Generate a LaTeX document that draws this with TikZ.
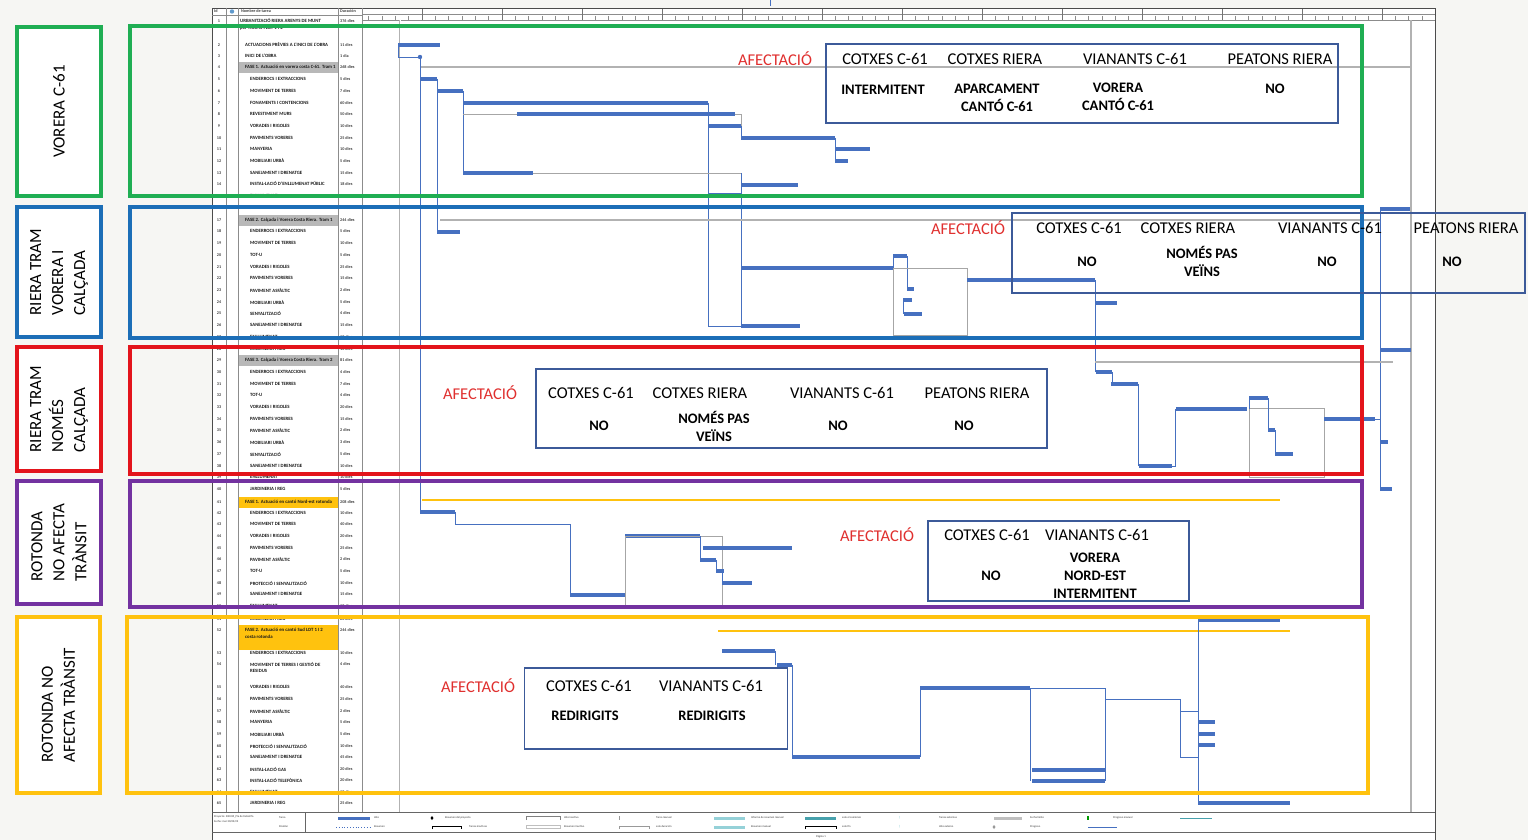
\documentclass[tikz,border=0pt]{standalone}
\usepackage{fontspec}
\setmainfont{Carlito}
\definecolor{bgc}{HTML}{F6F6F3}
\definecolor{cgreen}{HTML}{1FAE53}
\definecolor{cblue}{HTML}{1C6EB7}
\definecolor{cred}{HTML}{E3141B}
\definecolor{cpurple}{HTML}{7332A0}
\definecolor{cyellow}{HTML}{FFC20E}
\definecolor{navy}{HTML}{3C5A99}
\definecolor{barblue}{HTML}{4670C0}
\definecolor{afred}{HTML}{E0302F}
\definecolor{teal1}{HTML}{4FB3BF}
\newcommand\myhdr{\fontsize{16.5}{19}\selectfont}
\newcommand\myval{\fontsize{14.5}{18}\selectfont\bfseries}
\newcommand\mylab{\fontsize{17}{22}\selectfont}
\newcommand\mytbl{\fontsize{4.8}{5.6}\selectfont\bfseries}
\begin{document}
\begin{tikzpicture}[x=1pt,y=-1pt,
  gbar/.style={draw=barblue, line width=3.4pt},
  gthin/.style={draw=barblue, line width=0.9pt},
  gsum/.style={draw=black!30, line width=1.4pt},
  glight/.style={draw=black!35, line width=0.8pt},
  ysum/.style={draw=cyellow, line width=1.4pt},
  grect/.style={draw=black!35, line width=0.9pt},
  bigbox/.style={line width=3.4pt},
  lblbox/.style={draw, line width=3.4pt, fill=white, inner sep=0pt},
  lbltext/.style={rotate=90, align=left, font=\mylab, inner sep=0pt},
  infobox/.style={draw=navy, line width=1.5pt, inner sep=0pt},
  hdrtxt/.style={font=\myhdr, inner sep=0pt},
  valtxt/.style={font=\myval, align=center, inner sep=0pt},
  afec/.style={font=\myhdr, text=afred, inner sep=0pt},
  tbltxt/.style={font=\mytbl, text=black!90, inner sep=0pt},
  durtxt/.style={font=\fontsize{4.2}{5}\selectfont\bfseries, text=black!75, inner sep=0pt},
  legtxt/.style={font=\fontsize{2.8}{3.2}\selectfont, text=black!80, inner sep=0pt, anchor=west}
]
\useasboundingbox (0,0) rectangle (1528,840);
\fill[bgc] (0,0) rectangle (1528,840);
% page
\fill[white] (212,8) rectangle (1435,840);
\draw[barblue, line width=1pt] (770,0) -- (770,6);
% table summary fills
\fill[black!28] (238,62) rectangle (338,73);
\fill[black!28] (238,215) rectangle (338,226);
\fill[black!28] (238,355) rectangle (338,366);
\fill[cyellow] (238,497) rectangle (338,508);
\fill[cyellow] (238,625) rectangle (338,650);
% page frame and columns
\draw[black!70, line width=0.8pt] (212,840) -- (212,8) -- (1435,8) -- (1435,840);
\foreach \cx in {226,238,338,362} \draw[black!45, line width=0.5pt] (\cx,8) -- (\cx,812);
\draw[black!45, line width=0.5pt] (212,15) -- (362,15);
\draw[black!45, line width=0.5pt] (362,14) -- (1435,14);
\draw[black!45, line width=0.5pt] (362,20) -- (1435,20);
\node[durtxt, anchor=west] (hid) at (214,11.5) {Id};
\fill[cblue!70] (232,11.5) circle (2.2);
\node[durtxt, anchor=west] (hname) at (241,11.5) {Nombre de tarea};
\node[durtxt, anchor=west] (hdur) at (340,11.5) {Duración};
% timeline ticks
\begin{scope}
\clip (362,8) rectangle (1435,21);
\foreach \k in {-1,0,...,12} {
  \pgfmathsetmacro\tx{422+80*\k}
  \draw[black!55, line width=0.5pt] (\tx,9) -- (\tx,20);
  \foreach \s in {1,...,5} {
    \pgfmathsetmacro\sx{\tx+13.33*\s}
    \draw[black!45, line width=0.4pt] (\sx,16) -- (\sx,20);
  }
}
\end{scope}
% table rows
\begin{scope}
\clip (238,8) rectangle (338,812);
\foreach \yy/\id/\xx/\nm in {
21/1/240/URBANITZACIÓ RIERA ARENYS DE MUNT,
45/2/245/ACTUACIONS PRÈVIES A L'INICI DE L'OBRA,
56/3/245/INICI DE L'OBRA,
67/4/245/FASE 1. Actuació en vorera costa C-61. Tram 1,
79/5/250/ENDERROCS I EXTRACCIONS,
91/6/250/MOVIMENT DE TERRES,
103/7/250/FONAMENTS I CONTENCIONS,
114/8/250/REVESTIMENT MURS,
126/9/250/VORADES I RIGOLES,
138/10/250/PAVIMENTS VORERES,
149/11/250/MANYERIA,
161/12/250/MOBILIARI URBÀ,
173/13/250/SANEJAMENT I DRENATGE,
184/14/250/INSTAL·LACIÓ D'ENLLUMENAT PÚBLIC,
196/15/250/ENLLUMENAT,
208/16/250/JARDINERIA I REG,
220/17/245/FASE 2. Calçada i Vorera Costa Riera. Tram 1,
231/18/250/ENDERROCS I EXTRACCIONS,
243/19/250/MOVIMENT DE TERRES,
255/20/250/TOT-U,
267/21/250/VORADES I RIGOLES,
278/22/250/PAVIMENTS VORERES,
290/23/250/PAVIMENT ASFÀLTIC,
302/24/250/MOBILIARI URBÀ,
313/25/250/SENYALITZACIÓ,
325/26/250/SANEJAMENT I DRENATGE,
337/27/250/ENLLUMENAT,
349/28/250/JARDINERIA I REG,
360/29/245/FASE 3. Calçada i Vorera Costa Riera. Tram 2,
372/30/250/ENDERROCS I EXTRACCIONS,
384/31/250/MOVIMENT DE TERRES,
395/32/250/TOT-U,
407/33/250/VORADES I RIGOLES,
419/34/250/PAVIMENTS VORERES,
430/35/250/PAVIMENT ASFÀLTIC,
442/36/250/MOBILIARI URBÀ,
454/37/250/SENYALITZACIÓ,
466/38/250/SANEJAMENT I DRENATGE,
477/39/250/ENLLUMENAT,
489/40/250/JARDINERIA I REG,
502/41/245/FASE 1. Actuació en cantó Nord-est rotonda,
513/42/250/ENDERROCS I EXTRACCIONS,
524/43/250/MOVIMENT DE TERRES,
536/44/250/VORADES I RIGOLES,
548/45/250/PAVIMENTS VORERES,
559/46/250/PAVIMENT ASFÀLTIC,
571/47/250/TOT-U,
583/48/250/PROTECCIÓ I SENYALITZACIÓ,
594/49/250/SANEJAMENT I DRENATGE,
606/50/250/ENLLUMENAT,
619/51/250/JARDINERIA I REG,
630/52/245/FASE 2. Actuació en cantó Sud LOT 1 I 2,
653/53/250/ENDERROCS I EXTRACCIONS,
664/54/250/MOVIMENT DE TERRES I GESTIÓ DE,
687/55/250/VORADES I RIGOLES,
699/56/250/PAVIMENTS VORERES,
711/57/250/PAVIMENT ASFÀLTIC,
722/58/250/MANYERIA,
734/59/250/MOBILIARI URBÀ,
746/60/250/PROTECCIÓ I SENYALITZACIÓ,
757/61/250/SANEJAMENT I DRENATGE,
769/62/250/INSTAL·LACIÓ GAS,
780/63/250/INSTAL·LACIÓ TELEFÒNICA,
792/64/250/ENLLUMENAT,
803/65/250/JARDINERIA I REG}{
  \node[tbltxt, anchor=west] (nm\id) at (\xx,\yy) {\nm};
}
\node[tbltxt, anchor=west] (nm1b) at (240,28) {per TRAMS I LOT 1 I 2};
\node[tbltxt, anchor=west] (nm52b) at (245,637) {costa rotonda};
\node[tbltxt, anchor=west] (nm54b) at (250,671) {RESIDUS};
\end{scope}
\foreach \yy/\id/\du in {21/1/376 dies,45/2/11 dies,56/3/1 dia,67/4/268 dies,79/5/5 dies,91/6/7 dies,103/7/60 dies,114/8/50 dies,126/9/10 dies,138/10/25 dies,149/11/10 dies,161/12/5 dies,173/13/15 dies,184/14/18 dies,196/15/10 dies,208/16/5 dies,220/17/244 dies,231/18/5 dies,243/19/10 dies,255/20/5 dies,267/21/25 dies,278/22/15 dies,290/23/2 dies,302/24/5 dies,313/25/4 dies,325/26/15 dies,337/27/10 dies,349/28/10 dies,360/29/81 dies,372/30/4 dies,384/31/7 dies,395/32/4 dies,407/33/20 dies,419/34/15 dies,430/35/2 dies,442/36/3 dies,454/37/5 dies,466/38/10 dies,477/39/10 dies,489/40/5 dies,502/41/208 dies,513/42/10 dies,524/43/40 dies,536/44/20 dies,548/45/25 dies,559/46/2 dies,571/47/5 dies,583/48/10 dies,594/49/15 dies,606/50/10 dies,619/51/20 dies,630/52/244 dies,653/53/10 dies,664/54/4 dies,687/55/40 dies,699/56/25 dies,711/57/2 dies,722/58/5 dies,734/59/5 dies,746/60/10 dies,757/61/45 dies,769/62/20 dies,780/63/20 dies,792/64/10 dies,803/65/25 dies}{
  \node[durtxt] (id\id) at (219,\yy) {\id};
  \node[durtxt, anchor=west] (du\id) at (340,\yy) {\du};
}
% project lines
\draw[black!30, line width=2pt] (400,20) -- (400,812);
\draw[white, line width=0.6pt] (400,20) -- (400,812);
\draw[black!30, line width=1.2pt] (1411,20) -- (1411,812);
% ===== Gantt section 1
\draw[gthin] (398,45) -- (398,57) -- (420,57);
\draw[gbar] (398,45) -- (440,45);
\fill[barblue] (420,57) circle (2.2);
\draw[gsum] (420,67) -- (1410,67);
\draw[gthin] (420,57) -- (420,512);
\draw[gbar] (420,79) -- (437,79);
\draw[gthin] (437,79) -- (437,232);
\draw[gbar] (437,91) -- (463,91);
\draw[gthin] (463,91) -- (463,173);
\draw[gbar] (463,103) -- (708,103);
\draw[glight] (463,114) -- (517,114);
\draw[gbar] (517,114) -- (735,114);
\draw[glight] (735,114) -- (741,114) -- (741,126);
\draw[gthin] (708,103) -- (708,326) -- (741,326);
\draw[gbar] (708,126) -- (741,126);
\draw[gthin] (741,126) -- (741,138);
\draw[gbar] (741,138) -- (835,138);
\draw[gthin] (835,138) -- (835,161);
\draw[gbar] (835,149) -- (870,149);
\draw[gbar] (835,161) -- (848,161);
\draw[gbar] (463,173) -- (533,173);
\draw[glight] (533,173) -- (741,173);
\draw[gthin] (741,173) -- (741,326);
\draw[gbar] (741,185) -- (798,185);
\draw[gbar] (708,195) -- (741,195);
% ===== section 2
\draw[gsum] (440,220) -- (1380,220);
\draw[gbar] (437,232) -- (460,232);
\draw[gbar] (741,268) -- (893,268);
\draw[gthin] (893,268) -- (893,256);
\draw[gbar] (893,256) -- (907,256);
\draw[gthin] (907,256) -- (907,289);
\draw[gbar] (907,289) -- (914,289);
\draw[gthin] (903,300) -- (903,314);
\draw[gbar] (903,300) -- (912,300);
\draw[gbar] (904,314) -- (922,314);
\draw[grect] (893,268) rectangle (967,335);
\draw[gbar] (967,280) -- (1095,280);
\draw[gthin] (1095,280) -- (1095,372);
\draw[gbar] (1095,303) -- (1117,303);
\draw[gbar] (741,326) -- (800,326);
\draw[gthin] (1380,209) -- (1380,489);
\draw[gbar] (1380,209) -- (1410,209);
\draw[gbar] (1380,350) -- (1411,350);
\draw[gbar] (1380,442) -- (1388,442);
\draw[gbar] (1380,489) -- (1392,489);
% ===== section 3
\draw[gsum] (1095,362) -- (1393,362);
\draw[gbar] (1096,372) -- (1112,372);
\draw[gthin] (1112,372) -- (1112,384);
\draw[gbar] (1111,384) -- (1138,384);
\draw[gthin] (1138,384) -- (1138,466);
\draw[gbar] (1139,466) -- (1172,466);
\draw[gthin] (1172,466) -- (1175,466) -- (1175,409);
\draw[gbar] (1176,409) -- (1247,409);
\draw[grect] (1249,408) rectangle (1324,477);
\draw[gthin] (1249,409) -- (1249,398);
\draw[gbar] (1249,398) -- (1268,398);
\draw[gthin] (1268,398) -- (1268,430);
\draw[gbar] (1268,430) -- (1275,430);
\draw[gthin] (1275,430) -- (1275,454);
\draw[gbar] (1275,454) -- (1293,454);
\draw[gbar] (1324,419) -- (1375,419);
\draw[gthin] (1375,419) -- (1380,419);
% ===== section 4
\draw[ysum] (422,500) -- (1280,500);
\draw[gbar] (420,512) -- (455,512);
\draw[gthin] (455,512) -- (455,524) -- (570,524) -- (570,595);
\draw[gbar] (570,595) -- (625,595);
\draw[gthin] (625,595) -- (625,536);
\draw[gbar] (625,536) -- (700,536);
\draw[grect] (625,536) rectangle (722,605);
\draw[gthin] (700,536) -- (700,560);
\draw[gbar] (703,548) -- (792,548);
\draw[gbar] (700,560) -- (716,560);
\draw[gthin] (716,560) -- (716,571);
\draw[gbar] (716,571) -- (724,571);
\draw[gthin] (722,571) -- (722,583);
\draw[gbar] (722,583) -- (752,583);
% ===== section 5
\draw[ysum] (718,631) -- (1290,631);
\draw[gbar] (1198,620) -- (1280,620);
\draw[gthin] (1198,620) -- (1198,803);
\draw[gbar] (722,651) -- (775,651);
\draw[gthin] (775,651) -- (775,665);
\draw[gbar] (777,665) -- (792,665);
\draw[gthin] (792,665) -- (792,757);
\draw[gbar] (792,757) -- (920,757);
\draw[gthin] (920,757) -- (920,688);
\draw[gbar] (920,688) -- (1030,688);
\draw[gthin] (1030,688) -- (1105,688) -- (1105,781);
\draw[gthin] (1030,688) -- (1030,781);
\draw[gbar] (1032,770) -- (1105,770);
\draw[gbar] (1032,781) -- (1105,781);
\draw[gthin] (1105,699) -- (1180,699) -- (1180,757) -- (1198,757);
\draw[gthin] (1180,711) -- (1198,711);
\draw[gbar] (1198,722) -- (1215,722);
\draw[gbar] (1198,734) -- (1215,734);
\draw[gbar] (1198,745) -- (1215,745);
\draw[gbar] (1198,803) -- (1290,803);
% ===== footer legend
\draw[black!60, line width=0.6pt] (212,812) -- (1435,812);
\draw[black!60, line width=0.6pt] (212,832) -- (1435,832);
\draw[black!60, line width=0.6pt] (305,812) -- (305,832);
\node[legtxt] (lp1) at (214,817) {Proyecto: 200325\_Pla de treball fa};
\node[legtxt] (lp2) at (214,822) {Fecha: mar 30/03/23};
\node[legtxt] (lg1) at (279,818) {Tarea};
\node[legtxt] (lg2) at (279,827) {División};
\fill[barblue] (338,816.5) rectangle (370,819.5);
\draw[barblue, dotted, line width=0.8pt] (336,827) -- (370,827);
\node[legtxt] (lg3) at (374,818) {Hito};
\node[legtxt] (lg4) at (374,827) {Resumen};
\fill[black] (432,816) -- (433.5,818) -- (432,820) -- (430.5,818) -- cycle;
\draw[black, line width=1pt] (432,829) -- (432,826) -- (461,826) -- (461,829);
\node[legtxt] (lg5) at (445,818) {Resumen del proyecto};
\node[legtxt] (lg6) at (469,827) {Tareas inactivas};
\draw[black!50, line width=0.6pt] (526,820) -- (526,816) -- (560,816) -- (560,820);
\draw[black!25, line width=0.6pt] (526,825.5) rectangle (560,828.5);
\node[legtxt] (lg7) at (564,818) {Hito inactivo};
\node[legtxt] (lg8) at (564,827) {Resumen inactivo};
\draw[black!40, line width=0.5pt] (619,816) -- (619,820);
\draw[black!40, line width=0.6pt] (619,829) -- (619,826) -- (649,826) -- (649,829);
\node[legtxt] (lg9) at (656,818) {Tarea manual};
\node[legtxt] (lg10) at (656,827) {solo duración};
\fill[teal1!60] (714,816.5) rectangle (745,819.5);
\fill[teal1!60] (714,825.5) rectangle (745,828.5);
\node[legtxt] (lg11) at (751,818) {Informe de resumen manual};
\node[legtxt] (lg12) at (751,827) {Resumen manual};
\fill[teal1!90!black] (805,816.5) rectangle (836,819.5);
\draw[black, line width=1pt] (805,829) -- (805,826) -- (836,826) -- (836,829);
\node[legtxt] (lg13) at (842,818) {solo el comienzo};
\node[legtxt] (lg14) at (842,827) {solo fin};
\node[legtxt, text=teal1] (lg15) at (899,818) {[};
\node[legtxt, text=teal1] (lg16) at (899,827) {]};
\node[legtxt] (lg17) at (939,818) {Tareas externas};
\node[legtxt] (lg18) at (939,827) {Hito externo};
\fill[black!25] (994,816.5) rectangle (1022,819.5);
\fill[black!40] (994,825) -- (995.5,827) -- (994,829) -- (992.5,827) -- cycle;
\node[legtxt] (lg19) at (1030,818) {Fecha límite};
\node[legtxt] (lg20) at (1030,827) {Progreso};
\fill[green!60!black] (1087,816) rectangle (1089,820);
\draw[barblue, line width=0.8pt] (1088,827) -- (1117,827);
\node[legtxt] (lg21) at (1113,818) {Progreso manual};
\draw[teal1!90!black, line width=0.8pt] (1180,818) -- (1212,818);
\node[legtxt] (pag) at (816,837) {Página 1};
% ===== big coloured boxes
\draw[bigbox, cgreen] (130,26) rectangle (1362,196);
\draw[bigbox, cblue] (130,207) rectangle (1362,338);
\draw[bigbox, cred] (130,347) rectangle (1362,474);
\draw[bigbox, cpurple] (130,481) rectangle (1362,607);
\draw[bigbox, cyellow] (127,617) rectangle (1368,793);
% ===== left labels
\node[lblbox, draw=cgreen, minimum width=84pt, minimum height=169pt] (lab1) at (59,111.5) {};
\node[lbltext] (lt1) at (lab1.center) {VORERA C-61};
\node[lblbox, draw=cblue, minimum width=84pt, minimum height=130pt] (lab2) at (59,272) {};
\node[lbltext] (lt2) at (lab2.center) {RIERA TRAM\\VORERA I\\CALÇADA};
\node[lblbox, draw=cred, minimum width=84pt, minimum height=124pt] (lab3) at (59,409) {};
\node[lbltext] (lt3) at (lab3.center) {RIERA TRAM\\NOMÉS\\CALÇADA};
\node[lblbox, draw=cpurple, minimum width=84pt, minimum height=123pt] (lab4) at (59,542.5) {};
\node[lbltext] (lt4) at (lab4.center) {ROTONDA\\NO AFECTA\\TRÀNSIT};
\node[lblbox, draw=cyellow, minimum width=83pt, minimum height=176pt] (lab5) at (58.5,705) {};
\node[lbltext] (lt5) at (lab5.center) {ROTONDA NO\\AFECTA TRÀNSIT};
% ===== info box 1
\node[infobox, minimum width=512pt, minimum height=79pt] (ib1) at (1082,83.5) {};
\node[afec] (af1) at (775,59) {AFECTACIÓ};
\node[hdrtxt] (h11) at (885,59) {COTXES C-61};
\node[hdrtxt] (h12) at (995,59) {COTXES RIERA};
\node[hdrtxt] (h13) at (1135,59) {VIANANTS C-61};
\node[hdrtxt] (h14) at (1280,59) {PEATONS RIERA};
\node[valtxt] (v11) at (883,90) {INTERMITENT};
\node[valtxt] (v12) at (997,98) {APARCAMENT\\CANTÓ C-61};
\node[valtxt] (v13) at (1118,97) {VORERA\\CANTÓ C-61};
\node[valtxt] (v14) at (1275,89) {NO};
% ===== info box 2
\node[infobox, minimum width=513pt, minimum height=80pt] (ib2) at (1268.5,253) {};
\node[afec] (af2) at (968,228) {AFECTACIÓ};
\node[hdrtxt] (h21) at (1079,228) {COTXES C-61};
\node[hdrtxt] (h22) at (1188,228) {COTXES RIERA};
\node[hdrtxt] (h23) at (1330,228) {VIANANTS C-61};
\node[hdrtxt] (h24) at (1466,228) {PEATONS RIERA};
\node[valtxt] (v21) at (1087,262) {NO};
\node[valtxt] (v22) at (1202,261) {NOMÉS PAS\\VEÏNS};
\node[valtxt] (v23) at (1327,262) {NO};
\node[valtxt] (v24) at (1452,262) {NO};
% ===== info box 3
\node[infobox, minimum width=511pt, minimum height=79pt] (ib3) at (791.5,408.5) {};
\node[afec] (af3) at (480,393) {AFECTACIÓ};
\node[hdrtxt] (h31) at (591,393) {COTXES C-61};
\node[hdrtxt] (h32) at (700,393) {COTXES RIERA};
\node[hdrtxt] (h33) at (842,393) {VIANANTS C-61};
\node[hdrtxt] (h34) at (977,393) {PEATONS RIERA};
\node[valtxt] (v31) at (599,426) {NO};
\node[valtxt] (v32) at (714,426) {NOMÉS PAS\\VEÏNS};
\node[valtxt] (v33) at (838,426) {NO};
\node[valtxt] (v34) at (964,426) {NO};
% ===== info box 4
\node[infobox, minimum width=261pt, minimum height=80pt] (ib4) at (1058.5,561) {};
\node[afec] (af4) at (877,535) {AFECTACIÓ};
\node[hdrtxt] (h41) at (987,535) {COTXES C-61};
\node[hdrtxt] (h42) at (1097,535) {VIANANTS C-61};
\node[valtxt] (v41) at (991,576) {NO};
\node[valtxt] (v42) at (1095,576) {VORERA\\NORD-EST\\INTERMITENT};
% ===== info box 5
\node[infobox, minimum width=263pt, minimum height=81pt] (ib5) at (656,708.5) {};
\node[afec] (af5) at (478,686) {AFECTACIÓ};
\node[hdrtxt] (h51) at (589,686) {COTXES C-61};
\node[hdrtxt] (h52) at (711,686) {VIANANTS C-61};
\node[valtxt] (v51) at (585,716) {REDIRIGITS};
\node[valtxt] (v52) at (712,716) {REDIRIGITS};
\end{tikzpicture}
\end{document}
